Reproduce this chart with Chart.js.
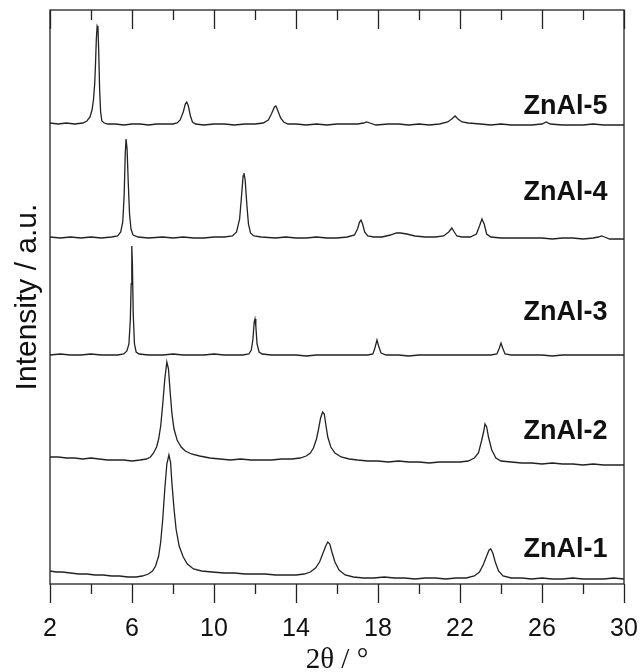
<!DOCTYPE html>
<html>
<head>
<meta charset="utf-8">
<script src="https://cdn.jsdelivr.net/npm/chart.js@4.4.1/dist/chart.umd.min.js"></script>
<style>
  html, body { margin: 0; padding: 0; background: #fff; }
  #wrap { width: 640px; height: 672px; }
</style>
</head>
<body>
<div id="wrap"><canvas id="xrdChart" width="640" height="672"></canvas></div>
<script>
// 2theta ticks
const xTickLabels = [2, 6, 10, 14, 18, 22, 26, 30];
const xMinorTicks = [4, 8, 12, 16, 20, 24, 28];

const sampleNames = ['ZnAl-1', 'ZnAl-2', 'ZnAl-3', 'ZnAl-4', 'ZnAl-5'];
const labelY = [34, 152, 271, 391, 477];

// [2theta, intensity] (a.u., offsets included)
const znal1 = [[2.0,13],[2.3,12],[2.6,12],[3.0,11],[3.4,10],[3.8,10],[4.2,9],[4.6,9],[5.0,8],[5.4,8],[5.8,7],[6.2,7],[6.5,8],[6.8,10],[7.0,13],[7.15,18],[7.3,28],[7.4,42],[7.5,65],[7.6,95],[7.7,120],[7.8,129],[7.88,122],[7.95,100],[8.05,75],[8.15,55],[8.3,38],[8.5,27],[8.7,20],[9.0,15],[9.4,13],[9.9,12],[10.5,11],[11.0,11],[11.5,10],[12.0,10],[12.5,10],[13.0,9],[13.5,9],[14.0,9],[14.4,10],[14.7,12],[14.95,16],[15.15,22],[15.3,30],[15.45,38],[15.55,42],[15.65,40],[15.75,32],[15.9,22],[16.1,14],[16.4,9],[16.8,7],[17.3,6],[17.8,6],[18.3,7],[18.8,6],[19.3,6],[19.8,5],[20.3,6],[20.8,6],[21.3,5],[21.8,6],[22.3,6],[22.7,8],[22.95,12],[23.15,20],[23.3,28],[23.42,34],[23.5,35],[23.6,31],[23.72,22],[23.88,13],[24.1,8],[24.5,6],[25.0,6],[25.5,5],[26.0,6],[26.5,5],[27.0,5],[27.5,6],[28.0,5],[28.5,5],[29.0,5],[29.5,6],[30.0,5]];

const znal2 = [[2.0,127],[2.4,127],[2.8,126],[3.2,126],[3.6,125],[4.0,126],[4.4,125],[4.8,124],[5.2,124],[5.6,124],[6.0,123],[6.4,124],[6.7,125],[6.9,127],[7.05,131],[7.2,137],[7.3,145],[7.4,158],[7.5,180],[7.6,205],[7.7,222],[7.78,215],[7.85,195],[7.95,170],[8.05,155],[8.2,144],[8.4,137],[8.6,133],[8.9,130],[9.3,128],[9.8,126],[10.3,125],[10.8,124],[11.3,125],[11.8,124],[12.3,124],[12.8,124],[13.3,125],[13.8,125],[14.2,126],[14.5,128],[14.7,131],[14.85,136],[15.0,145],[15.1,155],[15.2,166],[15.3,172],[15.38,170],[15.45,160],[15.55,147],[15.7,137],[15.9,131],[16.2,127],[16.6,125],[17.0,124],[17.5,123],[18.0,123],[18.5,122],[19.0,123],[19.5,122],[20.0,122],[20.5,121],[21.0,122],[21.5,122],[22.0,122],[22.4,123],[22.7,126],[22.9,131],[23.05,143],[23.15,152],[23.22,160],[23.3,157],[23.4,146],[23.55,134],[23.75,126],[24.0,123],[24.5,122],[25.0,121],[25.5,121],[26.0,120],[26.5,121],[27.0,120],[27.5,120],[28.0,119],[28.5,120],[29.0,119],[29.5,119],[30.0,119]];

const znal3 = [[2.0,229],[2.5,230],[3.0,229],[3.5,229],[4.0,230],[4.5,229],[5.0,229],[5.3,229],[5.6,230],[5.75,233],[5.85,240],[5.92,265],[5.96,300],[5.99,338],[6.02,320],[6.06,270],[6.12,240],[6.2,232],[6.35,230],[6.8,229],[7.5,229],[8.0,230],[8.5,229],[9.0,229],[9.5,229],[10.0,230],[10.5,229],[11.0,229],[11.4,229],[11.7,230],[11.82,234],[11.9,245],[11.96,262],[12.0,265],[12.04,258],[12.1,240],[12.2,232],[12.35,230],[12.8,229],[13.5,229],[14.0,229],[14.5,228],[15.0,229],[15.5,229],[16.0,229],[16.5,229],[17.0,229],[17.5,229],[17.75,230],[17.85,236],[17.95,244],[18.03,238],[18.15,231],[18.4,229],[19.0,229],[19.5,228],[20.0,229],[20.5,229],[21.0,229],[21.5,229],[22.0,229],[22.5,229],[23.0,229],[23.5,229],[23.8,230],[23.92,236],[24.0,241],[24.08,236],[24.2,230],[24.5,229],[25.0,229],[25.5,229],[26.0,229],[26.5,228],[27.0,229],[27.5,229],[28.0,229],[28.5,229],[29.0,229],[29.5,229],[30.0,229]];

const znal4 = [[2.0,347],[2.5,346],[3.0,347],[3.5,346],[4.0,347],[4.5,346],[5.0,347],[5.3,348],[5.45,352],[5.55,362],[5.62,390],[5.67,430],[5.71,445],[5.76,435],[5.82,400],[5.88,370],[5.95,355],[6.05,349],[6.3,347],[6.8,346],[7.5,347],[8.0,346],[8.5,347],[9.0,346],[9.5,346],[10.0,347],[10.5,347],[10.9,348],[11.1,352],[11.25,365],[11.35,390],[11.42,408],[11.46,411],[11.52,404],[11.6,380],[11.68,360],[11.78,351],[11.95,348],[12.3,347],[13.0,346],[13.5,347],[14.0,346],[14.5,346],[15.0,347],[15.5,346],[16.0,346],[16.5,347],[16.85,349],[17.0,355],[17.1,362],[17.17,364],[17.25,360],[17.35,352],[17.5,348],[17.8,347],[18.2,347],[18.6,349],[18.9,351],[19.1,351],[19.4,350],[19.8,348],[20.3,347],[20.8,347],[21.2,348],[21.45,352],[21.6,356],[21.72,352],[21.85,348],[22.1,347],[22.5,347],[22.8,350],[22.95,358],[23.07,365],[23.18,360],[23.3,350],[23.5,347],[24.0,346],[24.5,346],[25.0,346],[25.5,346],[26.0,346],[26.5,345],[27.0,346],[27.5,346],[28.0,345],[28.5,346],[28.75,347],[28.9,348],[29.05,347],[29.3,345],[29.6,345],[30.0,345]];

const znal5 = [[2.0,461],[2.4,460],[2.8,461],[3.2,460],[3.6,461],[3.8,463],[3.95,467],[4.05,474],[4.12,484],[4.18,500],[4.22,520],[4.26,545],[4.30,558],[4.34,556],[4.38,530],[4.42,495],[4.47,472],[4.53,463],[4.65,461],[4.8,460],[5.2,460],[5.6,459],[6.0,460],[6.4,460],[6.8,459],[7.2,460],[7.6,460],[8.0,460],[8.2,461],[8.35,464],[8.5,472],[8.6,480],[8.67,482],[8.75,478],[8.85,468],[8.95,462],[9.1,460],[9.5,459],[10.0,460],[10.5,460],[11.0,459],[11.5,460],[12.0,460],[12.4,461],[12.65,464],[12.8,470],[12.95,477],[13.02,478],[13.1,474],[13.25,466],[13.4,462],[13.6,460],[14.0,460],[14.5,459],[15.0,460],[15.5,459],[16.0,460],[16.5,460],[17.0,460],[17.3,461],[17.45,462],[17.6,461],[17.9,459],[18.5,460],[19.0,460],[19.5,459],[20.0,460],[20.5,459],[21.0,460],[21.4,462],[21.6,465],[21.76,468],[21.9,465],[22.1,462],[22.4,461],[23.0,460],[23.5,459],[24.0,460],[24.5,459],[25.0,459],[25.5,459],[26.0,460],[26.2,462],[26.4,460],[27.0,459],[27.5,459],[28.0,459],[28.5,460],[29.0,459],[29.5,459],[30.0,459]];

const patterns = [znal1, znal2, znal3, znal4, znal5];

const sansFont = '"Liberation Sans", Arial, sans-serif';

// frame, ticks (in on top, out at bottom) and sample names
const framePlugin = {
    id: 'framePlugin',
    afterDraw(chart) {
        const c = chart.ctx;
        const a = chart.chartArea;
        const xs = chart.scales.x;
        const ys = chart.scales.y;
        c.save();
        c.strokeStyle = '#222';
        c.lineWidth = 1.3;
        c.strokeRect(a.left, a.top, a.right - a.left, a.bottom - a.top);
        c.beginPath();
        xTickLabels.forEach(v => {
            const px = Math.round(xs.getPixelForValue(v)) + 0.5;
            c.moveTo(px, a.bottom); c.lineTo(px, a.bottom + 19);
            c.moveTo(px, a.top); c.lineTo(px, a.top + 19);
        });
        xMinorTicks.forEach(v => {
            const px = Math.round(xs.getPixelForValue(v)) + 0.5;
            c.moveTo(px, a.bottom); c.lineTo(px, a.bottom + 10);
            c.moveTo(px, a.top); c.lineTo(px, a.top + 10);
        });
        c.stroke();

        c.fillStyle = '#111';
        c.font = 'bold 27px ' + sansFont;
        c.textAlign = 'right';
        c.textBaseline = 'middle';
        sampleNames.forEach((name, i) => {
            c.fillText(name, xs.getPixelForValue(29.2), ys.getPixelForValue(labelY[i]));
        });
        c.restore();
    }
};

const ctx = document.getElementById('xrdChart').getContext('2d');
new Chart(ctx, {
    type: 'line',
    data: {
        datasets: patterns.map((p, i) => ({
            label: sampleNames[i],
            data: p.map(pt => ({ x: pt[0], y: pt[1] })),
            borderColor: '#222',
            borderWidth: 1.3,
            pointRadius: 0,
            tension: 0,
            fill: false
        }))
    },
    options: {
        responsive: false,
        animation: false,
        layout: { padding: { left: 0, right: 0, top: 10, bottom: 0 } },
        plugins: {
            legend: { display: false },
            tooltip: { enabled: false }
        },
        scales: {
            x: {
                type: 'linear',
                min: 2,
                max: 30,
                afterBuildTicks: s => { s.ticks = xTickLabels.map(v => ({ value: v })); },
                afterFit: s => { s.height = 88; s.paddingRight = 16; },
                grid: { display: false },
                border: { display: false },
                ticks: {
                    color: '#111',
                    padding: 22,
                    maxRotation: 0,
                    autoSkip: false,
                    font: { family: sansFont, size: 25 }
                },
                title: {
                    display: true,
                    text: '2θ / °',
                    color: '#111',
                    padding: { top: 0, bottom: 0 },
                    font: { family: '"Liberation Serif", "Times New Roman", serif', size: 29, lineHeight: 0.8 }
                }
            },
            y: {
                min: 0,
                max: 574,
                afterFit: s => { s.width = 50; },
                grid: { display: false },
                border: { display: false },
                ticks: { display: false },
                title: {
                    display: true,
                    text: 'Intensity / a.u.',
                    color: '#111',
                    padding: { top: 10, bottom: 0 },
                    font: { family: sansFont, size: 30 }
                }
            }
        }
    },
    plugins: [framePlugin]
});
</script>
</body>
</html>
